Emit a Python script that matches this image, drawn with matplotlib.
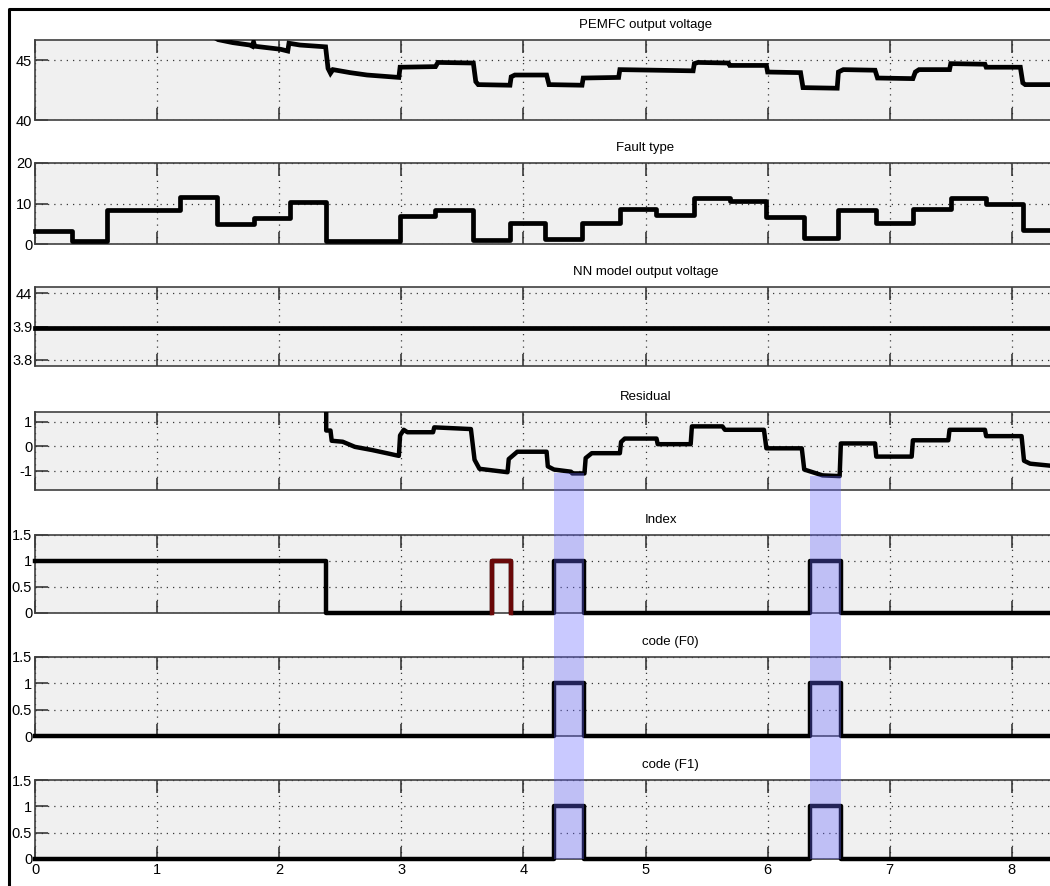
import numpy as np
import matplotlib
matplotlib.use("Agg")
import matplotlib.pyplot as plt
from matplotlib.lines import Line2D
from matplotlib.patches import Rectangle
from matplotlib import transforms

plt.rcParams['font.family'] = ['Liberation Sans', 'DejaVu Sans']
plt.rcParams['font.size'] = 10.5

# ---- signals (time in s) ----
pemfc_t = [1.45, 1.50, 1.62, 1.76, 1.78, 1.79, 1.80, 2.01, 2.07, 2.08, 2.17, 2.38,
           2.40, 2.42, 2.44, 2.58, 2.72, 2.98, 2.99, 3.28, 3.30, 3.59, 3.61, 3.63,
           3.89, 3.90, 3.93, 4.19, 4.21, 4.48, 4.49, 4.78, 4.79, 5.39, 5.40, 5.43,
           5.68, 5.69, 5.99, 6.00, 6.27, 6.29, 6.57, 6.58, 6.62, 6.88, 6.90, 7.19,
           7.21, 7.24, 7.49, 7.50, 7.78, 7.79, 8.07, 8.09, 8.11, 8.35]
pemfc_v = [47.0, 46.7, 46.45, 46.25, 46.15, 46.5, 46.15, 45.9, 45.75, 46.4, 46.25, 46.1,
           44.3, 43.9, 44.2, 43.95, 43.75, 43.55, 44.4, 44.45, 44.8, 44.75, 43.2, 42.95,
           42.9, 43.6, 43.75, 43.75, 42.95, 42.9, 43.5, 43.55, 44.2, 44.1, 44.7, 44.8,
           44.75, 44.55, 44.55, 44.0, 43.95, 42.7, 42.65, 44.0, 44.2, 44.15, 43.5, 43.45,
           44.0, 44.2, 44.2, 44.7, 44.65, 44.4, 44.4, 43.1, 42.95, 42.95]

fault_t = [0.0, 0.30, 0.59, 1.19, 1.49, 1.79, 2.09, 2.38, 2.99, 3.28, 3.59, 3.89, 4.18,
           4.48, 4.79, 5.09, 5.40, 5.69, 5.99, 6.30, 6.58, 6.89, 7.19, 7.50, 7.79, 8.09, 8.35]
fault_v = [3.2, 0.8, 8.5, 11.5, 5.0, 6.5, 10.4, 0.8, 6.9, 8.5, 1.0, 5.3, 1.2,
           5.3, 8.6, 7.1, 11.3, 10.7, 6.7, 1.5, 8.4, 5.3, 8.6, 11.3, 9.8, 3.4, 3.4]

nn_t = [0.0, 8.35]
nn_v = [3.897, 3.897]

resid_t = [2.385, 2.385, 2.42, 2.43, 2.52, 2.62, 2.76, 2.89, 2.98, 2.99, 3.02, 3.05,
           3.26, 3.27, 3.57, 3.60, 3.64, 3.87, 3.88, 3.95, 4.19, 4.20, 4.25, 4.39,
           4.40, 4.50, 4.51, 4.56, 4.79, 4.80, 4.83, 5.09, 5.10, 5.37, 5.38, 5.63,
           5.65, 5.97, 5.99, 6.28, 6.30, 6.45, 6.59, 6.60, 6.88, 6.89, 7.18, 7.19,
           7.48, 7.49, 7.78, 7.79, 8.08, 8.10, 8.15, 8.35]
resid_v = [1.6, 0.64, 0.64, 0.22, 0.18, -0.03, -0.16, -0.30, -0.40, 0.44, 0.67, 0.57,
           0.57, 0.77, 0.70, -0.56, -0.93, -1.07, -0.53, -0.23, -0.23, -0.83, -0.96, -1.05,
           -1.12, -1.12, -0.49, -0.29, -0.29, 0.17, 0.31, 0.31, 0.08, 0.08, 0.81, 0.81,
           0.67, 0.67, -0.09, -0.09, -0.96, -1.20, -1.23, 0.11, 0.11, -0.43, -0.43, 0.24,
           0.24, 0.67, 0.67, 0.41, 0.41, -0.60, -0.72, -0.82]
false_alarm = (3.70, 3.87)          # residual stretch flagged in red

index_t = [0.0, 2.385, 3.745, 3.90, 4.25, 4.50, 6.345, 6.60, 8.35]
index_v = [1, 0, 1, 0, 1, 0, 1, 0, 0]
red_pulse = (3.745, 3.90)

code_t = [0.0, 4.25, 4.50, 6.345, 6.60, 8.35]
code_f0 = [0, 1, 0, 1, 0, 0]
code_f1 = [0, 1, 0, 1, 0, 0]

detections = [(4.25, 4.50), (6.345, 6.60)]

titles = ['PEMFC output voltage', 'Fault type', 'NN model output voltage',
          'Residual', 'Index', 'code (F0)', 'code (F1)']
title_x = [0.5, 0.5, 0.5, 0.5, 0.513, 0.520, 0.520]
ylims = [(40, 46.67), (0, 20), (3.782, 4.018), (-1.8, 1.4), (0, 1.5), (0, 1.5), (0, 1.5)]
yticks = [[40, 45], [0, 10, 20], [3.8, 3.9, 4.0], [-1, 0, 1],
          [0, 0.5, 1, 1.5], [0, 0.5, 1, 1.5], [0, 0.5, 1, 1.5]]
yticklabels = [['40', '45'], ['0', '10', '20'], ['3.8', '3.9', '44'], ['-1', '0', '1'],
               ['0', '0.5', '1', '1.5'], ['0', '0.5', '1', '1.5'], ['0', '0.5', '1', '1.5']]
xticks = list(range(0, 9))

# ---- layout (pixel rows of each scope panel) ----
W, H = 1050, 886
rows = [(40, 120), (163, 244), (287, 366), (412, 490), (535, 613), (657, 736), (780, 859)]
x0_px, px_per_s, t_end = 35, 122.1, 10.0

fig = plt.figure(figsize=(W / 100, H / 100), dpi=100)
fig.patch.set_facecolor('white')

axes = []
for i, (top, bot) in enumerate(rows):
    ax = fig.add_axes([x0_px / W, 1 - bot / H, t_end * px_per_s / W, (bot - top) / H])
    ax.set_facecolor('#f0f0f0')
    ax.set_xlim(0, t_end)
    ax.set_ylim(*ylims[i])
    ax.set_xticks(xticks)
    ax.set_yticks(yticks[i])
    ax.set_yticklabels(yticklabels[i])
    ax.tick_params(direction='in', length=9, width=1.1, color='#2a2a2a',
                   top=True, right=True, labelsize=10.5, pad=3)
    ax.tick_params(axis='y', pad=2)
    if i < len(rows) - 1:
        ax.tick_params(labelbottom=False)
    ax.grid(True, color='#383838', linestyle=(0, (1, 4)), linewidth=0.9)
    ax.set_axisbelow(True)
    for s in ax.spines.values():
        s.set_color('#404040')
        s.set_linewidth(1.2)
    ax.annotate(titles[i], xy=(title_x[i], 1.0), xycoords='axes fraction',
                xytext=(0, 11), textcoords='offset points', ha='center', va='center',
                fontsize=9.5)
    axes.append(ax)

lw = 3.4
axes[0].plot(pemfc_t, pemfc_v, color='black', lw=lw, solid_joinstyle='miter', zorder=3)
axes[1].step(fault_t, fault_v, where='post', color='black', lw=lw, zorder=3, clip_on=False)
axes[2].plot(nn_t, nn_v, color='black', lw=lw, clip_on=False, zorder=3)
axes[3].plot(resid_t, resid_v, color='black', lw=3.2, zorder=3)
rt = np.array(resid_t)
rv = np.array(resid_v)
m = (rt >= false_alarm[0]) & (rt <= false_alarm[1])
axes[3].plot(rt[m], rv[m], color='#5a0a0a', lw=3.2, zorder=3)

axes[4].step(index_t, index_v, where='post', color='black', lw=3.2, clip_on=False, zorder=3)
axes[4].plot([red_pulse[0], red_pulse[0], red_pulse[1], red_pulse[1]],
             [0, 1, 1, 0], color='#6a0808', lw=3.2, clip_on=False, zorder=3)
axes[5].step(code_t, code_f0, where='post', color='black', lw=3.2, clip_on=False, zorder=3)
axes[6].step(code_t, code_f1, where='post', color='black', lw=3.2, clip_on=False, zorder=3)

# detection bands spanning from the residual dip down to the last scope
fig.canvas.draw()
to_fig = fig.transFigure.inverted()
band_tf = transforms.blended_transform_factory(axes[-1].transData, fig.transFigure)
y_bottom = 1 - rows[-1][1] / H
for (b0, b1) in detections:
    sel = (rt >= b0) & (rt <= b1)
    dip = rv[sel].min()
    y_top = to_fig.transform(axes[3].transData.transform((0, dip)))[1]
    fig.add_artist(Rectangle((b0, y_bottom), b1 - b0, y_top - y_bottom,
                             transform=band_tf, facecolor=(0.40, 0.40, 1.0),
                             alpha=0.35, edgecolor='none', zorder=5))

# outer frame of the scope window
fig.add_artist(Line2D([9 / W, 9 / W, 1.0], [0.0, 1 - 9 / H, 1 - 9 / H],
                      transform=fig.transFigure, color='black', lw=2.2))

fig.savefig('out.png', dpi=100)
